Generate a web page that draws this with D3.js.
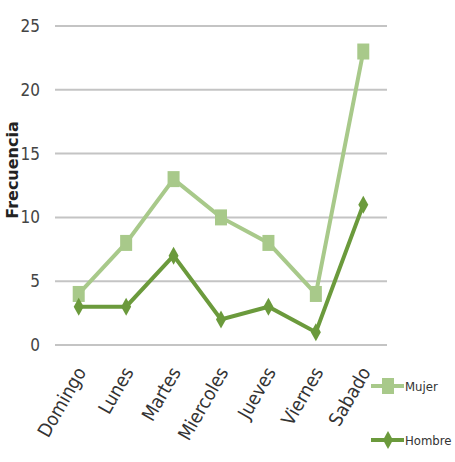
<!DOCTYPE html>
<html>
<head>
<meta charset="utf-8">
<script src="https://cdn.jsdelivr.net/npm/d3@7"></script>
<style>
  body { margin: 0; background: #fff; }
  text { font-family: "DejaVu Sans Condensed", "Liberation Sans", sans-serif; fill: #333; }
</style>
</head>
<body>
<script>
// Chart data
const dias = ["Domingo", "Lunes", "Martes", "Miercoles", "Jueves", "Viernes", "Sabado"];
const mujer = [4, 8, 13, 10, 8, 4, 23];
const hombre = [3, 3, 7, 2, 3, 1, 11];
const yTicks = [0, 5, 10, 15, 20, 25];

const width = 455, height = 462;
const plotLeft = 55, plotRight = 387, plotTop = 26, plotBottom = 345;

const svg = d3.select("body")
    .append("svg")
    .attr("width", width)
    .attr("height", height);

const x = d3.scaleBand().domain(dias).range([plotLeft, plotRight]);
const y = d3.scaleLinear().domain([0, 25]).range([plotBottom, plotTop]);

const cMujer = "#a8c98a", cHombre = "#6b9a3c";

// gridlines
svg.append("g")
    .selectAll("line")
    .data(yTicks)
    .join("line")
    .attr("x1", plotLeft)
    .attr("x2", plotRight)
    .attr("y1", d => y(d))
    .attr("y2", d => y(d))
    .attr("stroke", "#c4c4c4")
    .attr("stroke-width", 2);

// y labels
svg.append("g")
    .selectAll("text")
    .data(yTicks)
    .join("text")
    .attr("x", 40)
    .attr("y", d => y(d) + 6)
    .attr("text-anchor", "end")
    .style("font-size", "17px")
    .style("fill", "#444")
    .text(d => d);

// y title
svg.append("text")
    .attr("transform", "translate(18,170) rotate(-90)")
    .attr("text-anchor", "middle")
    .style("font-family", "'DejaVu Sans', sans-serif")
    .style("font-weight", "bold")
    .style("font-size", "16px")
    .style("fill", "#222")
    .text("Frecuencia");

// x labels
svg.append("g")
    .selectAll("text")
    .data(dias)
    .join("text")
    .attr("transform", d => "translate(" + (x(d) + x.bandwidth() / 2 + 8) + ",372) rotate(-60)")
    .attr("text-anchor", "end")
    .style("font-size", "19px")
    .text(d => d);

const cx = d => x(d) + x.bandwidth() / 2;

const line = d3.line()
    .x((d, i) => cx(dias[i]))
    .y(d => y(d));

// Mujer series
svg.append("path")
    .datum(mujer)
    .attr("d", line)
    .attr("fill", "none")
    .attr("stroke", cMujer)
    .attr("stroke-width", 4);

svg.append("g")
    .selectAll("rect")
    .data(mujer)
    .join("rect")
    .attr("x", (d, i) => cx(dias[i]) - 6)
    .attr("y", d => y(d) - 8)
    .attr("width", 12)
    .attr("height", 16)
    .attr("fill", cMujer);

// Hombre series
svg.append("path")
    .datum(hombre)
    .attr("d", line)
    .attr("fill", "none")
    .attr("stroke", cHombre)
    .attr("stroke-width", 4);

const diamond = "M0,-9L5,0L0,9L-5,0Z";

svg.append("g")
    .selectAll("path")
    .data(hombre)
    .join("path")
    .attr("transform", (d, i) => "translate(" + cx(dias[i]) + "," + y(d) + ")")
    .attr("d", diamond)
    .attr("fill", cHombre);

// Legend
const legend = [
    { name: "Mujer", color: cMujer, shape: "rect", yy: 386 },
    { name: "Hombre", color: cHombre, shape: "diamond", yy: 440 }
];

legend.forEach(l => {
    svg.append("line")
        .attr("x1", 371)
        .attr("x2", 404)
        .attr("y1", l.yy)
        .attr("y2", l.yy)
        .attr("stroke", l.color)
        .attr("stroke-width", 4);
    if (l.shape === "rect") {
        svg.append("rect")
            .attr("x", 382)
            .attr("y", l.yy - 8)
            .attr("width", 12)
            .attr("height", 16)
            .attr("fill", l.color);
    } else {
        svg.append("path")
            .attr("transform", "translate(388," + l.yy + ")")
            .attr("d", diamond)
            .attr("fill", l.color);
    }
    svg.append("text")
        .attr("x", 405)
        .attr("y", l.yy + 5)
        .style("font-size", "13px")
        .text(l.name);
});
</script>
</body>
</html>
